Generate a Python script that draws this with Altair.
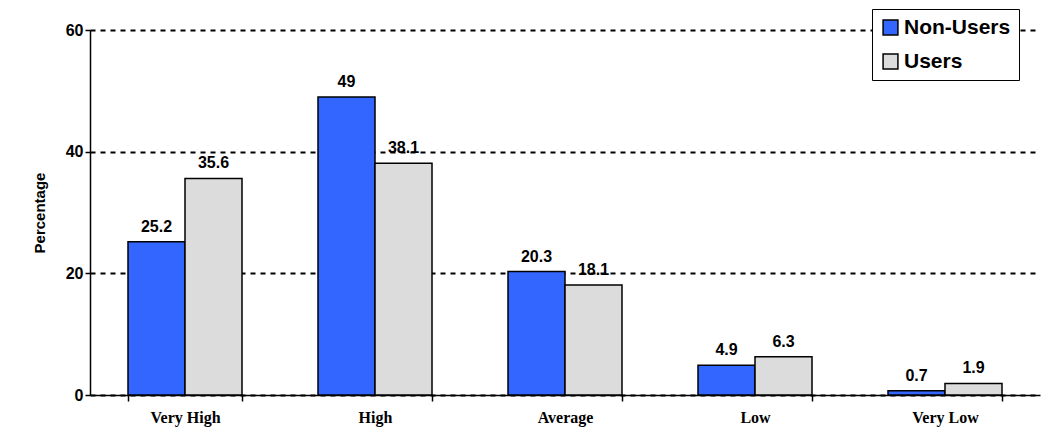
import altair as alt
import pandas as pd

categories = ["Very High", "High", "Average", "Low", "Very Low"]
non_users = [25.2, 49, 20.3, 4.9, 0.7]
users = [35.6, 38.1, 18.1, 6.3, 1.9]
groups = ["Non-Users", "Users"]

rows = []
for c, a, b in zip(categories, non_users, users):
    rows.append({"cat": c, "group": "Non-Users", "value": a, "label": f"{a:g}"})
    rows.append({"cat": c, "group": "Users", "value": b, "label": f"{b:g}"})
df = pd.DataFrame(rows)

x = alt.X("cat:N", sort=categories, title=None,
          scale=alt.Scale(paddingInner=0.4, paddingOuter=0.2),
          axis=alt.Axis(labelAngle=0, labelFont="Liberation Serif", labelFontWeight="bold",
                        labelFontSize=16, labelColor="black", tickBand="extent",
                        domainColor="black", domainWidth=1.5, tickColor="black",
                        tickWidth=1.5, tickSize=6, labelPadding=8))
xo = alt.XOffset("group:N", sort=groups)

bars = alt.Chart(df).mark_bar(stroke="black", strokeWidth=1.5).encode(
    x=x, xOffset=xo,
    y=alt.Y("value:Q", title="Percentage",
            scale=alt.Scale(domain=[0, 60]),
            axis=alt.Axis(values=[0, 20, 40, 60], grid=True, gridDash=[5, 5],
                          gridColor="black", gridWidth=2, domainColor="black",
                          domainWidth=1.5, tickColor="black", tickWidth=1.5,
                          labelFont="Liberation Sans",
                          labelFontWeight="bold", labelFontSize=16, labelColor="black",
                          titleFont="Liberation Sans", titleFontSize=15,
                          titleColor="black", titlePadding=18)),
    color=alt.Color("group:N", sort=groups, title=None,
                    scale=alt.Scale(domain=groups, range=["#3366ff", "#dcdcdc"]),
                    legend=alt.Legend(orient="none", legendX=782, legendY=-21,
                                      symbolType="square", symbolSize=220,
                                      symbolStrokeColor="black", symbolStrokeWidth=1.5,
                                      labelFont="Liberation Sans", labelFontWeight="bold",
                                      labelFontSize=21, labelColor="black", labelOffset=3,
                                      strokeColor="black", padding=8, rowPadding=12,
                                      fillColor="white")),
)

text = alt.Chart(df).mark_text(dy=-15, fontSize=16, fontWeight="bold",
                               font="Liberation Sans", color="black").encode(
    x=x, xOffset=xo, y="value:Q", text="label:N")

chart = alt.layer(bars, text).properties(
    width=950, height=365,
    autosize=alt.AutoSizeParams(type="none"),
    padding={"left": 82, "top": 22, "right": 7, "bottom": 34},
).configure_view(stroke=None).configure_axis(grid=False)

chart.save("out.html", embed_options={"renderer": "svg", "actions": False})
